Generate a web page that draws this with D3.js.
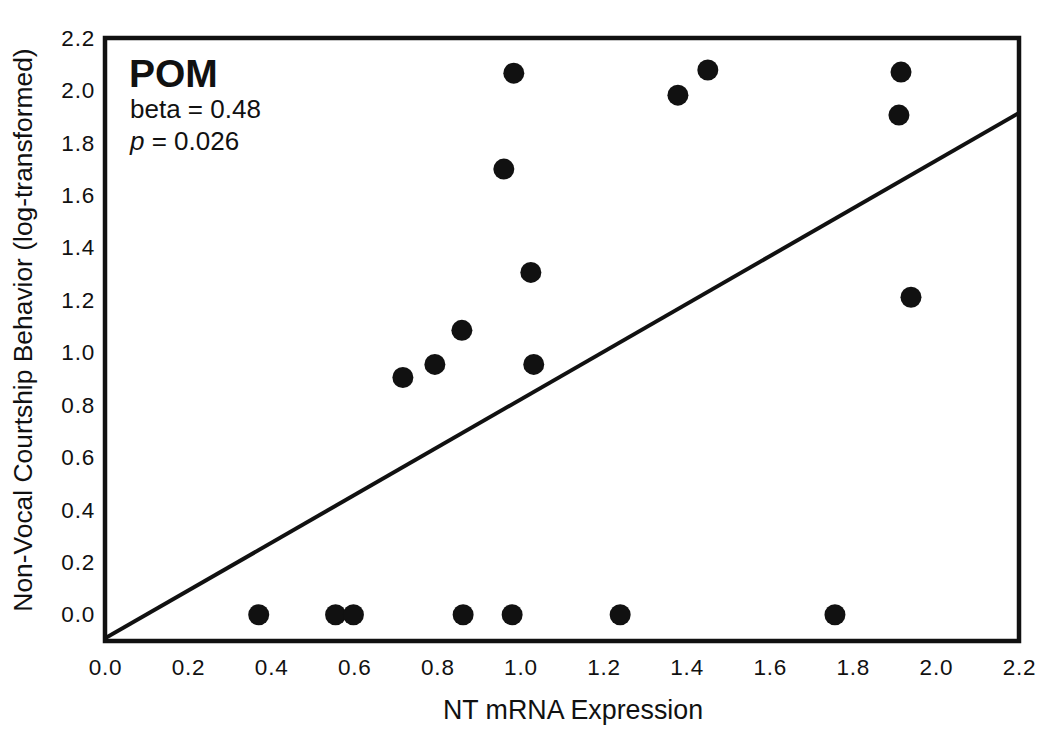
<!DOCTYPE html>
<html>
<head>
<meta charset="utf-8">
<script src="https://cdn.jsdelivr.net/npm/d3@7"></script>
<style>
  html, body { margin: 0; padding: 0; background: #fff; }
  svg { display: block; font-family: "Liberation Sans", Arial, sans-serif; }
</style>
</head>
<body>
<svg id="chart" width="1050" height="735"></svg>
<script>
// ---- data ----
const ntExpression = [0.37, 0.555, 0.598, 0.862, 0.98, 1.24, 1.757,
                      0.717, 0.794, 0.859, 1.032, 1.025, 0.960, 0.984, 1.379, 1.451, 1.916, 1.911, 1.940];
const courtship    = [0.0, 0.0, 0.0, 0.0, 0.0, 0.0, 0.0,
                      0.905, 0.955, 1.085, 0.955, 1.306, 1.700, 2.066, 1.982, 2.078, 2.070, 1.906, 1.211];
const fitIntercept = -0.09;
const fitSlope = 0.911;
const xTicks = [0.0, 0.2, 0.4, 0.6, 0.8, 1.0, 1.2, 1.4, 1.6, 1.8, 2.0, 2.2];
const yTicks = [0.0, 0.2, 0.4, 0.6, 0.8, 1.0, 1.2, 1.4, 1.6, 1.8, 2.0, 2.2];
const xDomain = [0, 2.2];
const yDomain = [-0.1, 2.2];
const regionLabel = "POM";
const betaText = "beta = 0.48";
const pText = " = 0.026";
const xTitle = "NT mRNA Expression";
const yTitle = "Non-Vocal Courtship Behavior (log-transformed)";

// ---- layout ----
const svg = d3.select("#chart");
const L = 105, R = 1019, T = 38, B = 641;
const x = d3.scaleLinear().domain(xDomain).range([L, R]);
const y = d3.scaleLinear().domain(yDomain).range([B, T]);

svg.append("defs").append("clipPath").attr("id", "plotclip")
  .append("rect").attr("x", L).attr("y", T).attr("width", R - L).attr("height", B - T);

// axes (labels only, no tick marks)
const xAxis = svg.append("g").attr("transform", `translate(0,${B})`)
  .call(d3.axisBottom(x).tickValues(xTicks).tickFormat(d3.format(".1f")).tickSize(0).tickPadding(18));
xAxis.select(".domain").remove();
xAxis.attr("font-size", null).attr("font-family", null);
xAxis.selectAll("text").style("font-size", "22.5px").attr("fill", "#111")
  .style("font-family", "'Liberation Sans', Arial, sans-serif").style("letter-spacing", "0.8px");

const yAxis = svg.append("g").attr("transform", `translate(${L},0)`)
  .call(d3.axisLeft(y).tickValues(yTicks).tickFormat(d3.format(".1f")).tickSize(0).tickPadding(10));
yAxis.select(".domain").remove();
yAxis.attr("font-size", null).attr("font-family", null);
yAxis.selectAll("text").style("font-size", "22.5px").attr("fill", "#111")
  .style("font-family", "'Liberation Sans', Arial, sans-serif").style("letter-spacing", "0.8px");

// regression line
const g = svg.append("g").attr("clip-path", "url(#plotclip)");
g.append("line")
  .attr("x1", x(xDomain[0])).attr("y1", y(fitIntercept + fitSlope * xDomain[0]))
  .attr("x2", x(xDomain[1])).attr("y2", y(fitIntercept + fitSlope * xDomain[1]))
  .attr("stroke", "#111").attr("stroke-width", 4);

// points
const pts = ntExpression.map((v, i) => ({x: v, y: courtship[i]}));
svg.append("g").selectAll("circle").data(pts).join("circle")
  .attr("cx", d => x(d.x)).attr("cy", d => y(d.y)).attr("r", 10.5)
  .attr("fill", "#111");

// frame
svg.append("rect").attr("x", L).attr("y", T).attr("width", R - L).attr("height", B - T)
  .attr("fill", "none").attr("stroke", "#111").attr("stroke-width", 4.5);

// annotations
svg.append("text").attr("x", 129).attr("y", 87).attr("font-size", 39).attr("font-weight", "bold")
  .attr("fill", "#111").text(regionLabel);
svg.append("text").attr("x", 130).attr("y", 118).attr("font-size", 26).attr("fill", "#111").text(betaText);
const pt = svg.append("text").attr("x", 130).attr("y", 150).attr("font-size", 26).attr("fill", "#111");
pt.append("tspan").attr("font-style", "italic").text("p");
pt.append("tspan").text(pText);

// axis titles
svg.append("text").attr("x", 573).attr("y", 719).attr("text-anchor", "middle")
  .attr("font-size", 26.8).attr("fill", "#111").text(xTitle);
svg.append("text").attr("transform", `translate(32,${(47 + 613) / 2}) rotate(-90)`)
  .attr("text-anchor", "middle").attr("font-size", 26.4).attr("fill", "#111").text(yTitle);
</script>
</body>
</html>
